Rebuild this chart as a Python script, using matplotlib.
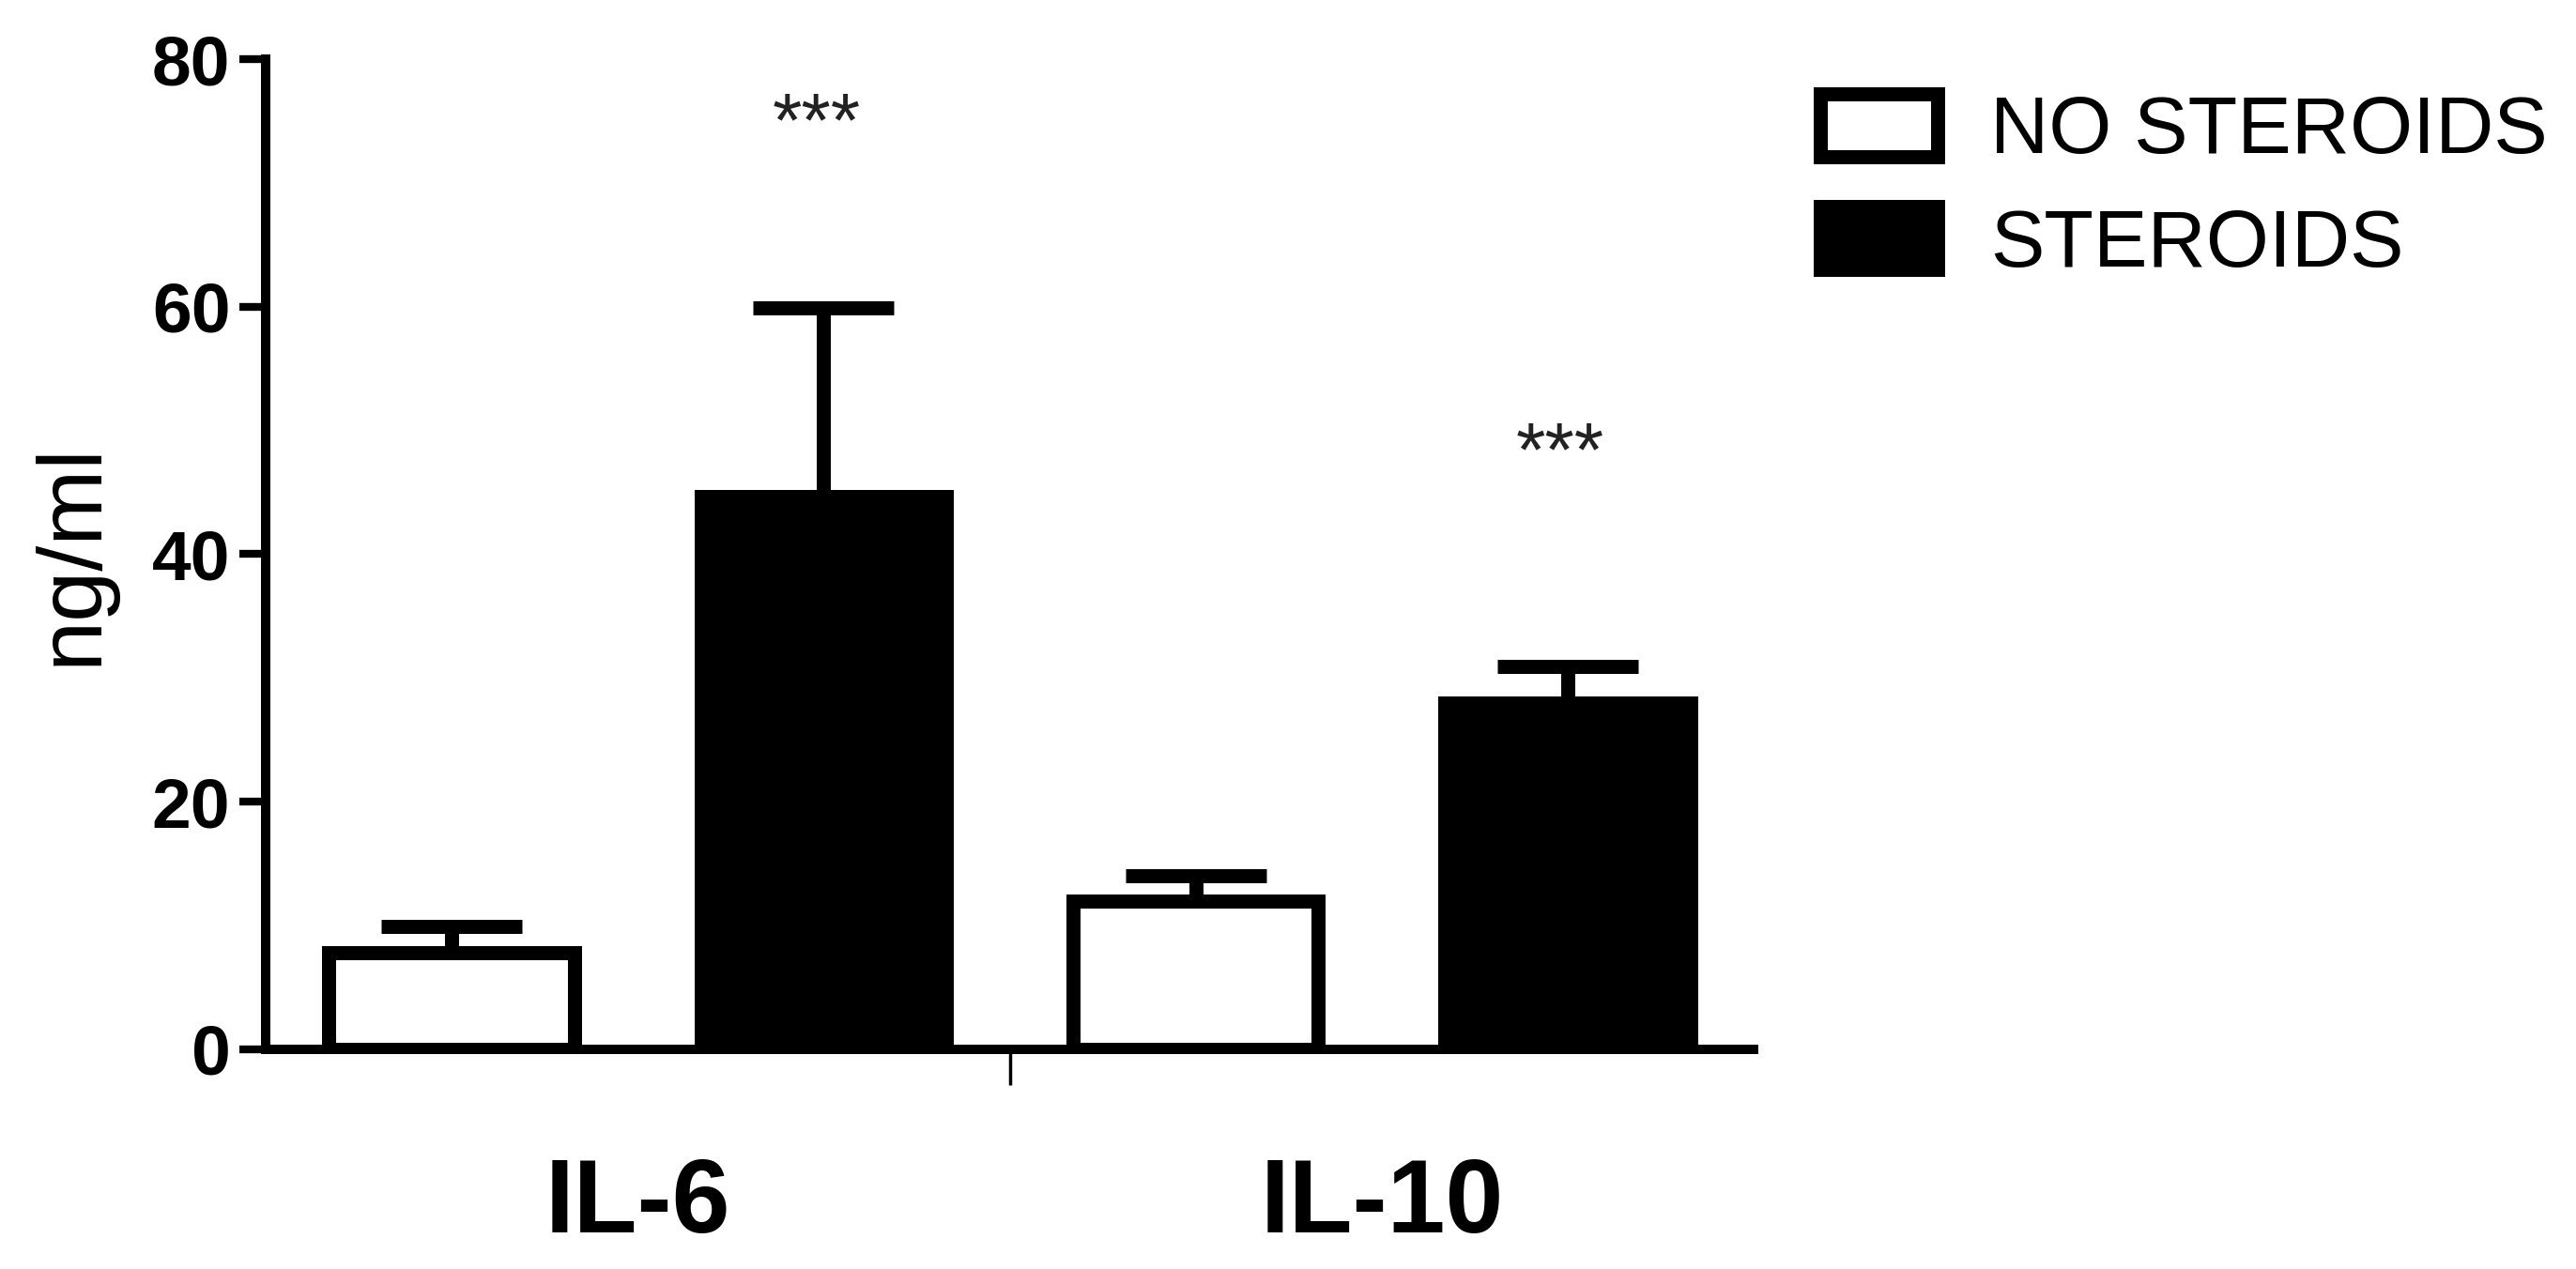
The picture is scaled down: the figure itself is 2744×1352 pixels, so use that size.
import numpy as np
import matplotlib
matplotlib.use("Agg")
import matplotlib.pyplot as plt

plt.rcParams['font.family'] = ['Liberation Sans', 'DejaVu Sans']

categories = ["IL-6", "IL-10"]
no_steroids = [7.8, 12.0]
no_steroids_err = [2.1, 2.0]
steroids = [44.7, 28.0]
steroids_err = [15.2, 2.9]
sig_labels = ["***", "***"]
sig_y = [73.0, 46.4]
yticks = [0, 20, 40, 60, 80]

fig = plt.figure(figsize=(27.44, 13.52), dpi=100)
ax = fig.add_axes([0.1031, 0.1731, 0.5777, 0.7803])

x = np.arange(len(categories))
w = 0.33
lw = 10.8

ax.bar(x - 0.25, no_steroids, w, color="white", edgecolor="black",
       linewidth=lw, label="NO STEROIDS", zorder=2)
ax.bar(x + 0.25, steroids, w, color="black", edgecolor="black",
       linewidth=lw, label="STEROIDS", zorder=2)

ax.errorbar(x - 0.25, no_steroids, yerr=[np.zeros(2), no_steroids_err],
            fmt="none", ecolor="black", elinewidth=lw, capsize=54,
            capthick=lw, zorder=1)
ax.errorbar(x + 0.25, steroids, yerr=[np.zeros(2), steroids_err],
            fmt="none", ecolor="black", elinewidth=lw, capsize=54,
            capthick=lw, zorder=1)

for xi, s, yy in zip(x + 0.25, sig_labels, sig_y):
    ax.text(xi - 0.01, yy, s, ha="center", va="baseline", fontsize=58,
            color="#222222")

ax.set_xlim(-0.5, 1.5)
ax.set_ylim(0, 80)
ax.spines["top"].set_visible(False)
ax.spines["right"].set_visible(False)
ax.spines["left"].set_linewidth(7.2)
ax.spines["bottom"].set_linewidth(7.2)
ax.spines["left"].set_capstyle("projecting")

ax.set_yticks(yticks)
ax.set_yticklabels([str(v) for v in yticks], fontsize=54, fontweight="bold")
ax.tick_params(axis="y", length=20, width=6, pad=7)

# separator tick between the groups, category names as minor ticks
ax.set_xticks([0.5])
ax.set_xticklabels([""])
ax.tick_params(axis="x", which="major", length=27, width=2.5)
ax.set_xticks(x, minor=True)
ax.set_xticklabels(categories, minor=True, fontsize=80, fontweight="bold")
ax.tick_params(axis="x", which="minor", length=0, pad=82)

ax.set_ylabel("ng/ml", fontsize=70)
ax.yaxis.set_label_coords(-0.101, 0.5)

fig.legend(loc="upper left", bbox_to_anchor=(1939 / 2744, 1 - 100 / 1352),
           frameon=False, fontsize=62, handlelength=1.45, handleheight=0.82,
           handletextpad=0.65, labelspacing=0.45, borderpad=0,
           borderaxespad=0)

fig.savefig("out.png", dpi=100)
